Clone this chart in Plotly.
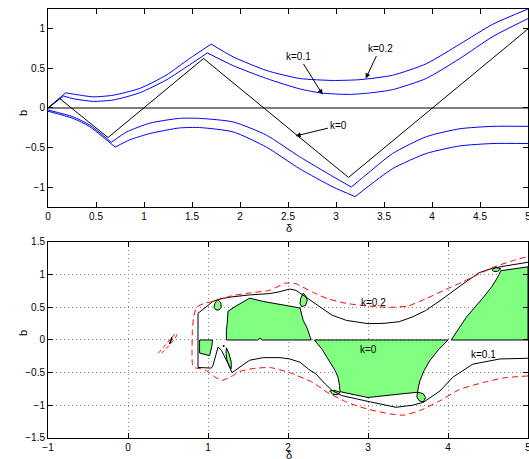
import plotly.graph_objects as go

# ---------------- top panel data ----------------
x_k0 = [0, 0.12, 0.625, 1.62, 3.13, 5.0]
b_k0 = [0, 0.12, -0.37, 0.62, -0.87, 0.99]

x_up02 = [0, 0.184, 0.26, 0.47, 0.68, 0.955, 1.23, 1.475, 1.70, 1.93, 2.275, 2.62, 2.97, 3.25, 3.59, 3.94, 4.29, 4.635, 5.0]
b_up02 = [0, 0.19, 0.175, 0.14, 0.16, 0.245, 0.41, 0.62, 0.80, 0.64, 0.47, 0.37, 0.345, 0.355, 0.41, 0.554, 0.80, 1.05, 1.24]
c_up02 = [0.184, 1.70]

x_up01 = [0, 0.163, 0.26, 0.47, 0.68, 0.955, 1.23, 1.475, 1.66, 1.93, 2.275, 2.62, 2.85, 3.14, 3.35, 3.59, 3.94, 4.29, 4.635, 5.0]
b_up01 = [0, 0.15, 0.117, 0.083, 0.10, 0.19, 0.35, 0.54, 0.69, 0.53, 0.37, 0.24, 0.187, 0.17, 0.188, 0.23, 0.37, 0.62, 0.896, 1.12]
c_up01 = [0.163, 1.66]

x_lo01 = [0, 0.26, 0.43, 0.66, 0.82, 1.06, 1.37, 1.58, 1.93, 2.275, 2.62, 2.97, 3.16, 3.30, 3.59, 3.94, 4.29, 4.635, 5.0]
b_lo01 = [-0.025, -0.11, -0.21, -0.43, -0.30, -0.19, -0.13, -0.13, -0.175, -0.34, -0.61, -0.86, -0.99, -0.85, -0.57, -0.36, -0.26, -0.23, -0.23]
c_lo01 = [0.66, 3.16]

x_lo02 = [0, 0.26, 0.43, 0.70, 0.85, 1.06, 1.37, 1.58, 1.93, 2.275, 2.62, 2.97, 3.2, 3.59, 3.94, 4.29, 4.635, 5.0]
b_lo02 = [-0.04, -0.13, -0.23, -0.49, -0.40, -0.32, -0.25, -0.245, -0.30, -0.49, -0.76, -0.99, -1.11, -0.76, -0.57, -0.475, -0.445, -0.445]
c_lo02 = [0.70, 3.2]

top_labels = ["k=0.1", "k=0.2", "k=0"]
top_label_pos = [(2.61, 0.65), (3.46, 0.75), (3.03, -0.22)]
top_arrow_tip = [(2.86, 0.17), (3.31, 0.37), (2.58, -0.35)]

# ---------------- bottom panel data ----------------
green_regions = [
    # upper-left big region
    ([1.23, 1.23, 1.24, 1.25, 1.35, 1.52, 1.69, 1.9, 2.1, 2.15, 2.19, 2.24, 2.29, 1.68, 1.65, 1.62, 1.23],
     [0.0, 0.15, 0.25, 0.44, 0.52, 0.64, 0.59, 0.54, 0.50, 0.49, 0.30, 0.18, 0.0, 0.0, 0.03, 0.0, 0.0]),
    # central k=0 region
    ([2.33, 4.0, 3.88, 3.77, 3.70, 3.65, 3.63, 3.62, 3.3, 3.0, 2.8, 2.65, 2.645, 2.625, 2.59, 2.52, 2.43, 2.33],
     [0.0, 0.0, -0.15, -0.32, -0.47, -0.62, -0.72, -0.80, -0.84, -0.88, -0.83, -0.79, -0.70, -0.57, -0.47, -0.32, -0.15, 0.0]),
    # right region
    ([4.04, 5.0, 5.0, 4.8, 4.66, 4.63, 4.55, 4.44, 4.23, 4.04],
     [0.0, 0.0, 1.12, 1.09, 1.06, 0.98, 0.82, 0.65, 0.35, 0.0]),
    # left small block
    ([0.895, 1.055, 1.05, 1.02, 0.895, 0.895],
     [0.0, 0.0, -0.08, -0.24, -0.20, 0.0]),
    # narrow lens
    ([1.23, 1.26, 1.29, 1.29, 1.265, 1.235, 1.225, 1.23],
     [-0.12, -0.20, -0.33, -0.44, -0.40, -0.30, -0.20, -0.12]),
    # upper-left small lens
    ([1.12, 1.16, 1.165, 1.14, 1.10, 1.075, 1.085, 1.12],
     [0.62, 0.57, 0.50, 0.46, 0.46, 0.50, 0.56, 0.62]),
    # lens near x=2.2
    ([2.19, 2.23, 2.24, 2.22, 2.17, 2.15, 2.16, 2.19],
     [0.72, 0.66, 0.60, 0.53, 0.51, 0.56, 0.64, 0.72]),
    # top-right small lens
    ([4.55, 4.60, 4.66, 4.62, 4.57, 4.55],
     [1.08, 1.11, 1.09, 1.05, 1.05, 1.08]),
    # bottom-left lens
    ([2.52, 2.58, 2.65, 2.62, 2.56, 2.52],
     [-0.78, -0.77, -0.80, -0.84, -0.83, -0.78]),
    # bottom-right lens
    ([3.62, 3.69, 3.72, 3.69, 3.64, 3.61, 3.62],
     [-0.80, -0.82, -0.88, -0.95, -0.93, -0.87, -0.80]),
]

x_outline = [5.0, 4.65, 4.31, 4.06, 3.90, 3.80, 3.69, 3.55, 3.35, 3.0, 2.67, 2.55, 2.47, 2.35, 2.26, 2.15,
             2.02, 1.90, 1.69, 1.52, 1.40, 1.30, 1.25, 1.20, 1.17, 1.125, 1.09, 1.06, 1.04, 0.95, 0.875,
             0.875, 0.875, 0.95, 1.06, 1.15, 1.30, 1.52, 1.77, 1.9, 2.02, 2.1, 2.17, 2.28, 2.40, 2.55,
             2.73, 3.0, 3.2, 3.39, 3.55, 3.72, 3.9, 4.06, 4.2, 4.39, 4.56, 4.8, 5.0]
b_outline = [-0.28, -0.29, -0.37, -0.57, -0.78, -0.87, -0.955, -1.0, -1.03, -0.94, -0.85, -0.77, -0.68, -0.52, -0.45, -0.34,
             -0.29, -0.27, -0.27, -0.31, -0.41, -0.50, -0.36, -0.22, -0.16, -0.11, -0.25, -0.40, -0.43, -0.42, -0.42,
             -0.10, 0.41, 0.48, 0.59, 0.63, 0.66, 0.69, 0.71, 0.74, 0.78, 0.76, 0.70, 0.60, 0.50, 0.38,
             0.30, 0.25, 0.255, 0.28, 0.35, 0.45, 0.60, 0.75, 0.87, 1.03, 1.10, 1.15, 1.19]

x_red = [5.0, 4.7, 4.44, 4.14, 3.9, 3.65, 3.45, 3.27, 3.0, 2.73, 2.49, 2.31, 2.02, 1.77, 1.55, 1.40, 1.29,
         1.17, 1.08, 0.98, 0.9, 0.82, 0.805, 0.80, 0.805, 0.82, 0.855, 0.95, 1.06, 1.31, 1.52, 1.77, 1.97,
         2.1, 2.31, 2.5, 2.73, 3.0, 3.27, 3.5, 3.72, 3.95, 4.2, 4.56, 4.8, 5.0]
b_red = [-0.55, -0.58, -0.65, -0.76, -0.93, -1.08, -1.15, -1.13, -1.06, -0.95, -0.80, -0.65, -0.50, -0.42, -0.44, -0.48, -0.56,
         -0.62, -0.56, -0.47, -0.44, -0.42, -0.37, -0.20, 0.14, 0.35, 0.50, 0.56, 0.59, 0.68, 0.72, 0.76, 0.87,
         0.86, 0.73, 0.63, 0.56, 0.52, 0.50, 0.52, 0.63, 0.76, 0.90, 1.11, 1.21, 1.28]

x_red_small = [0.38, 0.45, 0.52, 0.58, 0.61, 0.60, 0.55, 0.48, 0.42]
b_red_small = [-0.20, -0.10, 0.00, 0.08, 0.10, 0.05, -0.03, -0.13, -0.20]

x_black_small = [0.52, 0.55]
b_black_small = [-0.06, 0.04]

x_dot = [1.196]
b_dot = [-0.09]

bottom_labels = ["k=0.2", "k=0", "k=0.1"]
bottom_label_pos = [(3.07, 0.58), (3.01, -0.15), (4.44, -0.22)]

FONT = "Liberation Sans"
GREEN = "#80ff80"

fig = go.Figure()


def add_curve(xs, ys, corners, color, width=1.0):
    idx = [0] + [xs.index(c) for c in corners] + [len(xs) - 1]
    for a, b in zip(idx[:-1], idx[1:]):
        shape = "spline" if b - a > 1 else "linear"
        fig.add_trace(go.Scatter(x=xs[a:b + 1], y=ys[a:b + 1], mode="lines",
                                 line=dict(color=color, width=width, shape=shape, smoothing=0.6),
                                 xaxis="x", yaxis="y", showlegend=False, hoverinfo="skip"))


# top panel
fig.add_trace(go.Scatter(x=[0, 5], y=[0, 0], mode="lines", line=dict(color="#555555", width=1.3),
                         xaxis="x", yaxis="y", showlegend=False, hoverinfo="skip"))
add_curve(x_up02, b_up02, c_up02, "#0000ff")
add_curve(x_up01, b_up01, c_up01, "#0000ff")
add_curve(x_lo01, b_lo01, c_lo01, "#0000ff")
add_curve(x_lo02, b_lo02, c_lo02, "#0000ff")
fig.add_trace(go.Scatter(x=x_k0, y=b_k0, mode="lines", line=dict(color="black", width=1),
                         xaxis="x", yaxis="y", showlegend=False, hoverinfo="skip"))

# bottom panel
for gx, gy in green_regions:
    fig.add_trace(go.Scatter(x=gx, y=gy, mode="lines", fill="toself", fillcolor=GREEN,
                             line=dict(color="black", width=1), xaxis="x2", yaxis="y2",
                             showlegend=False, hoverinfo="skip"))
fig.add_trace(go.Scatter(x=x_outline, y=b_outline, mode="lines", line=dict(color="black", width=1),
                         xaxis="x2", yaxis="y2", showlegend=False, hoverinfo="skip"))
fig.add_trace(go.Scatter(x=x_red, y=b_red, mode="lines",
                         line=dict(color="#ff0000", width=1, dash="6px,4px", shape="spline", smoothing=0.5),
                         xaxis="x2", yaxis="y2", showlegend=False, hoverinfo="skip"))
fig.add_trace(go.Scatter(x=x_red_small, y=b_red_small, mode="lines",
                         line=dict(color="#ff0000", width=1, dash="4px,3px", shape="spline"),
                         xaxis="x2", yaxis="y2", showlegend=False, hoverinfo="skip"))
fig.add_trace(go.Scatter(x=x_black_small, y=b_black_small, mode="lines",
                         line=dict(color="black", width=1.5),
                         xaxis="x2", yaxis="y2", showlegend=False, hoverinfo="skip"))
fig.add_trace(go.Scatter(x=x_dot, y=b_dot, mode="markers", marker=dict(color="black", size=2),
                         xaxis="x2", yaxis="y2", showlegend=False, hoverinfo="skip"))

annotations = []
for t, (tx, ty), (ax_, ay_) in zip(top_labels, top_label_pos, top_arrow_tip):
    annotations.append(dict(x=ax_, y=ay_, ax=tx, ay=ty, xref="x", yref="y", axref="x", ayref="y",
                            text=t, showarrow=True, arrowhead=2, arrowsize=1, arrowwidth=1,
                            arrowcolor="black", standoff=0, startstandoff=1,
                            font=dict(family=FONT, size=10, color="black")))
for t, (tx, ty) in zip(bottom_labels, bottom_label_pos):
    annotations.append(dict(x=tx, y=ty, xref="x2", yref="y2", text=t, showarrow=False,
                            font=dict(family=FONT, size=10, color="black")))
# axis labels
annotations += [
    dict(x=0.502, y=0.4885, xref="paper", yref="paper", text="δ", showarrow=False,
         font=dict(family=FONT, size=11, color="black"), yanchor="middle"),
    dict(x=0.502, y=-0.040, xref="paper", yref="paper", text="δ", showarrow=False,
         font=dict(family=FONT, size=11, color="black"), yanchor="middle"),
    dict(x=-0.069, y=0.769, xref="paper", yref="paper", text="b", showarrow=False, textangle=-90,
         font=dict(family=FONT, size=11, color="black")),
    dict(x=-0.069, y=0.233, xref="paper", yref="paper", text="b", showarrow=False, textangle=-90,
         font=dict(family=FONT, size=11, color="black")),
]

axis_style = dict(showline=True, linecolor="black", linewidth=1, mirror="ticks", ticks="inside",
                  ticklen=5, tickcolor="black", zeroline=False, showgrid=False, automargin=False,
                  ticklabeloverflow="allow",
                  tickfont=dict(family=FONT, size=10, color="black"))

fig.update_layout(
    width=529, height=459,
    margin=dict(l=48, r=1, t=9, b=21),
    paper_bgcolor="white", plot_bgcolor="white",
    showlegend=False,
    xaxis=dict(axis_style, range=[0, 5], tick0=0, dtick=0.5, anchor="y", domain=[0, 1]),
    yaxis=dict(axis_style, range=[-1.24, 1.24], tickvals=[-1, -0.5, 0, 0.5, 1], anchor="x",
               domain=[0.5385, 1]),
    xaxis2=dict(axis_style, range=[-1, 5], tick0=-1, dtick=1, anchor="y2", domain=[0, 1],
                showgrid=True, gridcolor="#8a8a8a", griddash="1px,3px", gridwidth=1),
    yaxis2=dict(axis_style, range=[-1.5, 1.5], tick0=-1.5, dtick=0.5, anchor="x2",
                domain=[0, 0.4569], showgrid=True, gridcolor="#8a8a8a", griddash="1px,3px", gridwidth=1),
    annotations=annotations,
)

fig.write_html("out.html", config={"displayModeBar": False},
               post_script="document.body.style.margin='0';document.body.style.padding='0';")
